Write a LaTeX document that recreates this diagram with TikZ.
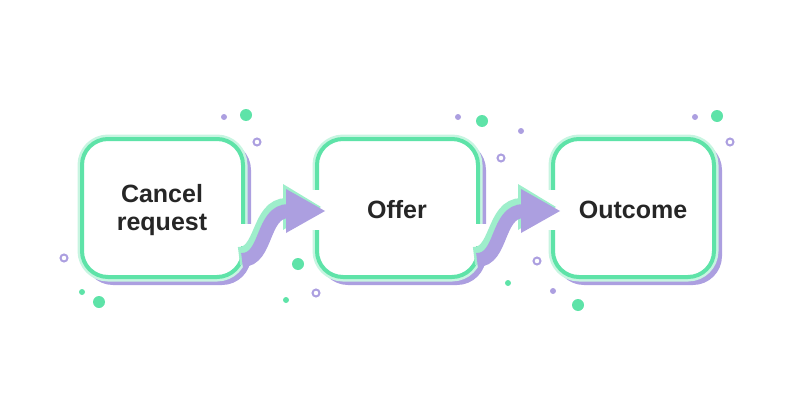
\documentclass[tikz,border=0pt]{standalone}
\usepackage{fontspec}
\setmainfont{Liberation Sans}
\tikzset{
  stepbox/.style   = { rounded corners=26pt, line width=4pt, draw=stepgreen },
  stephalo/.style  = { rounded corners=26pt, line width=9pt, draw=stepgreen!35 },
  stepshade/.style = { rounded corners=26pt, line width=6pt, draw=steppurple },
  steplabel/.style = { font=\bfseries\fontsize{25}{28}\selectfont, text=black!85, align=center },
  dot/.style       = { fill=#1, draw=none },
  ring/.style      = { draw=steppurple, line width=2pt, fill=white }
}
\definecolor{stepgreen}{HTML}{5EE3A8}
\definecolor{steppurple}{HTML}{AC9FE0}
\begin{document}
\begin{tikzpicture}[x=1pt,y=-1pt]
  \useasboundingbox (0,0) rectangle (800,420);

  % Draw all steps
  \foreach \x/\name in {82/a,317/b,553/c}{
    \draw[stepshade] (\x+5,144) rectangle ++(161,138);
    \draw[stephalo]  (\x,139) rectangle ++(161,138);
    \draw[stepbox,fill=white]  (\x,139) rectangle ++(161,138);
    \coordinate (\name) at (\x+80,210);
  }
  % gaps for the arrows
  \fill[white] (238,224) rectangle (252,246);
  \fill[white] (473,224) rectangle (487,246);
  \fill[white] (310,190) rectangle (324,230);
  \fill[white] (545,190) rectangle (559,230);

  % Draw arrows
  \foreach \s/\t in {243/325,478/560}{
    \draw[stepgreen!60, line width=18pt] (\s-4,256) .. controls (\s+22,256) and (\s+16,207) .. (\s+44,207);
    \fill[stepgreen!60] (\s+40,184) -- (\t-4,207) -- (\s+40,230) -- cycle;
    \draw[steppurple, line width=14pt] (\s-1,260) .. controls (\s+25,260) and (\s+18,211) .. (\s+46,211);
    \fill[steppurple] (\s+43,189) -- (\t,211) -- (\s+43,233) -- cycle;
  }

  % Draw labels
  \node[steplabel] (ta) at (a) {Cancel\\request};
  \node[steplabel] (tb) at (b) {Offer};
  \node[steplabel] (tc) at (c) {Outcome};

  % Draw dots
  \foreach \x/\y/\r in {246/115/6,298/264/6,99/302/6,286/300/3,482/121/6,508/283/3,578/305/6,717/116/6,82/292/3}
    \fill[dot=stepgreen] (\x,\y) circle (\r);
  \foreach \x/\y in {224/117,458/117,521/131,695/117,553/291}
    \fill[dot=steppurple] (\x,\y) circle (3);
  \foreach \x/\y in {257/142,64/258,316/293,501/158,537/261,730/142}
    \draw[ring] (\x,\y) circle (3.5);
\end{tikzpicture}
\end{document}
